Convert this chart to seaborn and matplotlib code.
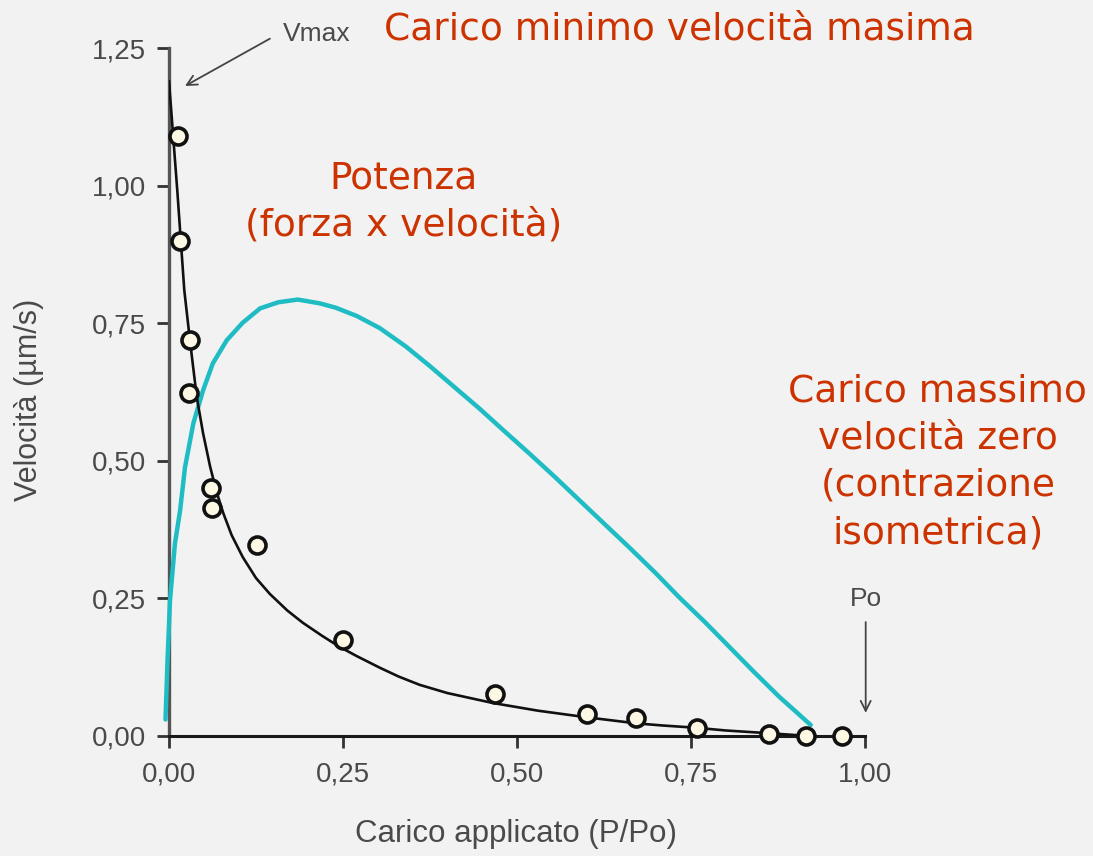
import matplotlib
matplotlib.use("Agg")
import matplotlib.pyplot as plt
import seaborn as sns
import pandas as pd

# Measured force-velocity points (relative load vs shortening velocity)
load_points = [0.013, 0.016, 0.030, 0.029, 0.060, 0.062, 0.126, 0.250, 0.468, 0.601, 0.671, 0.759, 0.862, 0.915, 0.967]
velocity_points = [1.09, 0.90, 0.72, 0.624, 0.45, 0.414, 0.347, 0.174, 0.076, 0.040, 0.032, 0.015, 0.004, 0.0, 0.0]

# Hyperbolic force-velocity curve
curve_load = [0.0, 0.006, 0.012, 0.017, 0.022, 0.030, 0.040, 0.049, 0.059, 0.068, 0.078, 0.09, 0.106,
              0.125, 0.145, 0.17, 0.192, 0.22, 0.245, 0.27, 0.303, 0.33, 0.36, 0.40, 0.465, 0.53,
              0.60, 0.671, 0.71, 0.757, 0.80, 0.862, 0.92]
curve_velocity = [1.19, 1.09, 0.99, 0.90, 0.81, 0.72, 0.615, 0.55, 0.49, 0.445, 0.405, 0.365, 0.325,
                  0.287, 0.258, 0.228, 0.206, 0.182, 0.162, 0.145, 0.124, 0.108, 0.093, 0.078, 0.060, 0.046,
                  0.034, 0.023, 0.019, 0.015, 0.010, 0.005, 0.0]

# Power curve (force x velocity)
power_load = [-0.005, -0.002, 0.0015, 0.0086, 0.016, 0.023, 0.035, 0.049, 0.063, 0.083, 0.106, 0.131,
              0.157, 0.185, 0.217, 0.24, 0.27, 0.303, 0.34, 0.374, 0.41, 0.446, 0.48, 0.518, 0.555,
              0.59, 0.625, 0.661, 0.70, 0.733, 0.77, 0.805, 0.84, 0.877, 0.90, 0.922]
power_value = [0.03, 0.14, 0.247, 0.35, 0.41, 0.488, 0.568, 0.628, 0.677, 0.719, 0.751, 0.777,
               0.788, 0.793, 0.786, 0.778, 0.763, 0.741, 0.708, 0.673, 0.634, 0.595, 0.556, 0.513, 0.47,
               0.428, 0.386, 0.343, 0.295, 0.252, 0.207, 0.162, 0.117, 0.071, 0.045, 0.02]

x_ticks = [0.0, 0.25, 0.5, 0.75, 1.0]
x_tick_labels = ["0,00", "0,25", "0,50", "0,75", "1,00"]
y_ticks = [0.0, 0.25, 0.5, 0.75, 1.0, 1.25]
y_tick_labels = ["0,00", "0,25", "0,50", "0,75", "1,00", "1,25"]

BG = "#f2f2f2"
RED = "#cc3300"
GREY = "#4a4a4a"
CYAN = "#1fbcc4"

sns.set_theme(style="ticks")
plt.rcParams["font.family"] = ["Liberation Sans", "DejaVu Sans"]

fig = plt.figure(figsize=(10.93, 8.56), dpi=100, facecolor=BG)
ax = fig.add_axes([0.1546, 0.1402, 0.6368, 0.8037], facecolor=BG)

pts = pd.DataFrame({"load": load_points, "velocity": velocity_points})
curve = pd.DataFrame({"load": curve_load, "velocity": curve_velocity})
power = pd.DataFrame({"load": power_load, "power": power_value})

sns.lineplot(data=power, x="load", y="power", ax=ax, color=CYAN, lw=3.2,
             sort=False, estimator=None, zorder=3, clip_on=False)
sns.lineplot(data=curve, x="load", y="velocity", ax=ax, color="#111111", lw=1.9,
             sort=False, estimator=None, zorder=4)
sns.scatterplot(data=pts, x="load", y="velocity", ax=ax, s=150, marker="o",
                facecolor="#fdf8e4", edgecolor="#111111", linewidth=2.6, zorder=5, clip_on=False)

ax.set_xlim(0, 1.0)
ax.set_ylim(0, 1.25)
ax.set_xticks(x_ticks)
ax.set_xticklabels(x_tick_labels)
ax.set_yticks(y_ticks)
ax.set_yticklabels(y_tick_labels)

for side in ("top", "right"):
    ax.spines[side].set_visible(False)
ax.spines["left"].set_color("#555555")
ax.spines["left"].set_linewidth(2.4)
ax.spines["bottom"].set_color("#1a1a1a")
ax.spines["bottom"].set_linewidth(2.2)
ax.tick_params(axis="both", direction="out", length=8.5, width=2.0, color="#333333",
               labelsize=20, labelcolor=GREY)
ax.tick_params(axis="x", pad=10)
ax.tick_params(axis="y", pad=8)

ax.set_xlabel("Carico applicato (P/Po)", fontsize=22.5, color=GREY)
ax.set_ylabel("Velocità (µm/s)", fontsize=22, color=GREY)
ax.xaxis.set_label_coords(0.498, -0.12)
ax.yaxis.set_label_coords(-0.18, 0.488)

# Vmax and Po markers
ax.annotate("", xy=(0.023, 1.181), xytext=(0.145, 1.267), annotation_clip=False,
            arrowprops=dict(arrowstyle="->", color="#444444", lw=1.3, shrinkA=0, shrinkB=0,
                            mutation_scale=18))
ax.text(0.212, 1.276, "Vmax", fontsize=19, color=GREY, ha="center", va="center", clip_on=False)
ax.annotate("", xy=(1.001, 0.042), xytext=(1.001, 0.207), annotation_clip=False,
            arrowprops=dict(arrowstyle="->", color="#444444", lw=1.3, shrinkA=0, shrinkB=0,
                            mutation_scale=18))
ax.text(1.001, 0.248, "Po", fontsize=19, color=GREY, ha="center", va="center", clip_on=False)

# Explanatory notes
fig.text(0.622, 0.965, "Carico minimo velocità masima", fontsize=27, color=RED,
         family="DejaVu Sans", ha="center", va="center")
fig.text(0.369, 0.764, "Potenza\n(forza x velocità)", fontsize=27, color=RED,
         family="DejaVu Sans", ha="center", va="center", linespacing=1.4)
fig.text(0.858, 0.46, "Carico massimo\nvelocità zero\n(contrazione\nisometrica)", fontsize=27,
         color=RED, family="DejaVu Sans", ha="center", va="center", linespacing=1.4)

fig.savefig("out.png", dpi=100, facecolor=BG)
